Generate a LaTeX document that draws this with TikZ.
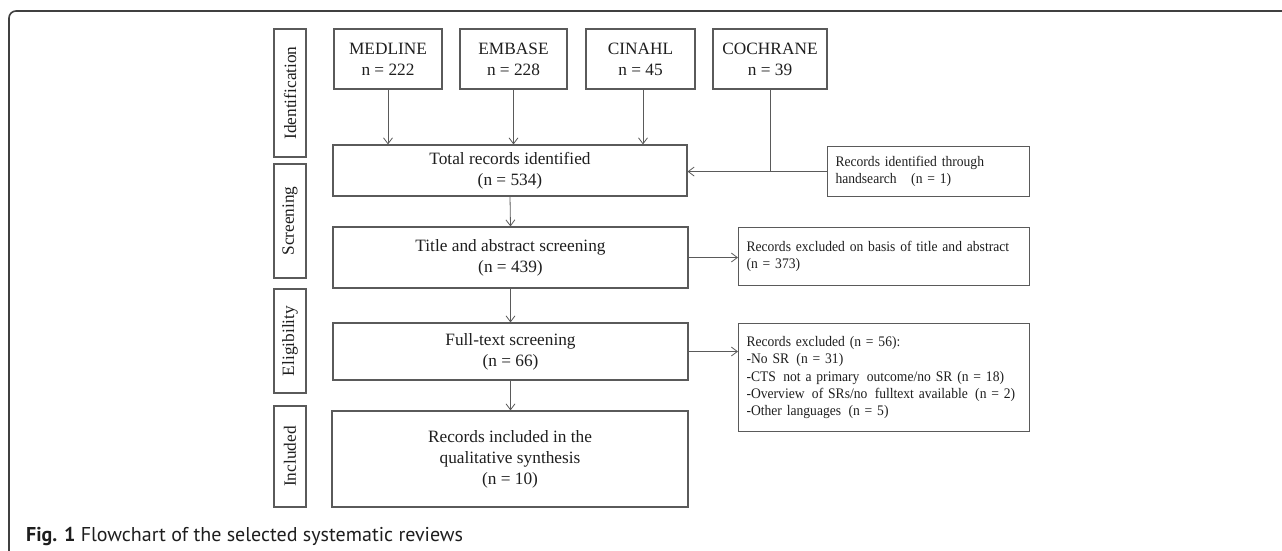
\documentclass[tikz,border=0pt]{standalone}
\usepackage{fontspec}
\setmainfont{Liberation Serif}
\newfontfamily\narrowserif[FakeStretch=0.93]{Liberation Serif}
\newfontfamily\capfont{PT Sans}
\usetikzlibrary{arrows.meta}
\definecolor{boxline}{HTML}{5A5A5A}
\definecolor{txt}{HTML}{1E1E1E}
\newcommand{\gap}{\hspace{2.5pt}}
\tikzset{
  bigtext/.style={font=\fontsize{17.3}{21}\selectfont, text=txt},
  smalltext/.style={font=\narrowserif\fontsize{14.6}{17.4}\selectfont, text=txt},
  mainbox/.style={draw=boxline, line width=1.1pt, inner sep=0pt, align=center, bigtext},
  stagebox/.style={draw=boxline, line width=1.1pt, inner sep=0pt, rotate=90, bigtext},
  sidebox/.style={draw=boxline, line width=1.1pt, inner ysep=0pt, inner xsep=8pt, anchor=north west, smalltext},
  conn/.style={draw=boxline, line width=0.8pt},
  arr/.style={conn, -{Straight Barb[length=6pt,width=9pt,line width=0.8pt]}},
}
\begin{document}
\begin{tikzpicture}[x=1pt,y=-1pt]
\useasboundingbox (0,0) rectangle (1282,550);
% frame
\draw[draw=black!75, line width=1.6pt, rounded corners=7pt] (9,560) -- (9,11) -- (1290,11);
% stage labels
\node[stagebox, minimum width=128pt, minimum height=32pt] (sid) at (290,93) {Identification};
\node[stagebox, minimum width=114pt, minimum height=32pt] (ssc) at (290,221) {Screening};
\node[stagebox, minimum width=104pt, minimum height=32pt] (sel) at (290,341) {Eligibility};
\node[stagebox, minimum width=101pt, minimum height=32pt] (sin) at (290,456.5) {Included};
% sources
\node[mainbox, minimum width=108pt, minimum height=60pt] (med) at (388,59) {MEDLINE\\n = 222};
\node[mainbox, minimum width=107pt, minimum height=60pt] (emb) at (513.5,59) {EMBASE\\n = 228};
\node[mainbox, minimum width=109pt, minimum height=60pt] (cin) at (640.5,59) {CINAHL\\n = 45};
\node[mainbox, minimum width=114pt, minimum height=60pt] (coc) at (770,59) {COCHRANE\\n = 39};
% main flow
\node[mainbox, minimum width=354pt, minimum height=51pt] (tot) at (510,170.5) {Total records identified\\(n = 534)};
\node[mainbox, minimum width=355pt, minimum height=61pt] (tit) at (510.5,257.5) {Title and abstract screening\\(n = 439)};
\node[mainbox, minimum width=355pt, minimum height=57pt] (ful) at (510.5,351.5) {Full-text screening\\(n = 66)};
\node[mainbox, minimum width=356pt, minimum height=96pt] (inc) at (510,459) {Records included in the\\qualitative synthesis\\(n = 10)};
% side boxes
\node[sidebox, minimum width=202pt, minimum height=50pt, text width=186pt, align=left] (hand) at (827,146) {Records identified through\\handsearch\ \ \ (n = 1)};
\node[sidebox, minimum width=291pt, minimum height=58pt, text width=275pt, align=left] (exc1) at (738,227) {Records excluded on basis of title and abstract\\(n = 373)};
\node[sidebox, minimum width=291pt, minimum height=108pt, text width=275pt, align=left] (exc2) at (738,323) {Records excluded (n = 56):\\-No SR\gap{} (n = 31)\\-CTS\gap{} not a primary\gap{} outcome/no SR (n = 18)\\-Overview\gap{} of SRs/no\gap{} fulltext available\gap{} (n = 2)\\-Other languages\gap{} (n = 5)};
% connectors
\draw[arr] (med.south) -- (med.south |- tot.north);
\draw[arr] (emb.south) -- (emb.south |- tot.north);
\draw[arr] ([xshift=2.5pt]cin.south) -- ([xshift=2.5pt]cin.south |- tot.north);
\coordinate (join) at (coc.south |- hand.west);
\draw[conn] (coc.south) -- (join);
\draw[arr] (hand.west) -- (hand.west -| tot.east);
\draw[arr] (tot.south) -- (tit.north);
\draw[arr] (tit.south) -- (ful.north);
\draw[arr] (ful.south) -- (ful.south |- inc.north);
\draw[arr] (tit.east) -- (tit.east -| exc1.west);
\draw[arr] (ful.east) -- (ful.east -| exc2.west);
% caption
\node[anchor=base west, inner sep=0pt, text=txt, font=\capfont\fontsize{20}{24}\selectfont] (cap) at (26,541) {\textbf{Fig. 1} Flowchart of the selected systematic reviews};
\end{tikzpicture}
\end{document}
